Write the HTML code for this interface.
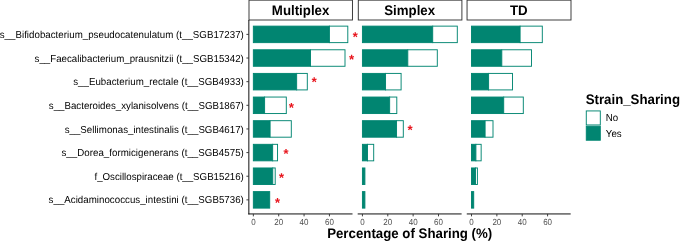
<!DOCTYPE html>
<html><head><meta charset="utf-8"><style>
html,body{margin:0;padding:0;background:#fff;width:685px;height:241px;overflow:hidden}
svg{display:block;will-change:transform;font-family:"Liberation Sans",sans-serif;text-rendering:geometricPrecision}
</style></head><body>
<svg width="685" height="241" viewBox="0 0 685 241">
<rect width="685" height="241" fill="#fff"/>
<rect x="249.00" y="0.15" width="103.45" height="19.85" fill="#fff" stroke="#333" stroke-width="0.945"/>
<text transform="translate(300.58,14.70) scale(1,1.04)" text-anchor="middle" font-size="13.27" font-weight="bold" fill="#000">Multiplex</text>
<rect x="358.30" y="0.15" width="103.60" height="19.85" fill="#fff" stroke="#333" stroke-width="0.945"/>
<text transform="translate(409.65,14.70) scale(1,1.04)" text-anchor="middle" font-size="13.27" font-weight="bold" fill="#000">Simplex</text>
<rect x="467.05" y="0.15" width="103.95" height="19.85" fill="#fff" stroke="#333" stroke-width="0.945"/>
<text transform="translate(518.73,14.70) scale(1,1.04)" text-anchor="middle" font-size="13.27" font-weight="bold" fill="#000">TD</text>
<rect x="253.35" y="26.13" width="76.05" height="16.50" fill="#018571" stroke="#018571" stroke-width="0.945"/>
<rect x="329.40" y="26.13" width="18.40" height="16.50" fill="#fff" stroke="#018571" stroke-width="0.945"/>
<rect x="253.35" y="49.77" width="57.15" height="16.50" fill="#018571" stroke="#018571" stroke-width="0.945"/>
<rect x="310.50" y="49.77" width="34.50" height="16.50" fill="#fff" stroke="#018571" stroke-width="0.945"/>
<rect x="253.35" y="73.41" width="43.30" height="16.50" fill="#018571" stroke="#018571" stroke-width="0.945"/>
<rect x="296.65" y="73.41" width="10.65" height="16.50" fill="#fff" stroke="#018571" stroke-width="0.945"/>
<rect x="253.35" y="97.05" width="11.25" height="16.50" fill="#018571" stroke="#018571" stroke-width="0.945"/>
<rect x="264.60" y="97.05" width="21.70" height="16.50" fill="#fff" stroke="#018571" stroke-width="0.945"/>
<rect x="253.35" y="120.69" width="16.75" height="16.50" fill="#018571" stroke="#018571" stroke-width="0.945"/>
<rect x="270.10" y="120.69" width="21.20" height="16.50" fill="#fff" stroke="#018571" stroke-width="0.945"/>
<rect x="253.35" y="144.33" width="19.30" height="16.50" fill="#018571" stroke="#018571" stroke-width="0.945"/>
<rect x="272.65" y="144.33" width="4.90" height="16.50" fill="#fff" stroke="#018571" stroke-width="0.945"/>
<rect x="253.35" y="167.97" width="19.40" height="16.50" fill="#018571" stroke="#018571" stroke-width="0.945"/>
<rect x="272.75" y="167.97" width="2.45" height="16.50" fill="#fff" stroke="#018571" stroke-width="0.945"/>
<rect x="253.35" y="191.61" width="16.35" height="16.50" fill="#018571" stroke="#018571" stroke-width="0.945"/>
<rect x="362.43" y="26.13" width="70.27" height="16.50" fill="#018571" stroke="#018571" stroke-width="0.945"/>
<rect x="432.70" y="26.13" width="24.60" height="16.50" fill="#fff" stroke="#018571" stroke-width="0.945"/>
<rect x="362.43" y="49.77" width="45.38" height="16.50" fill="#018571" stroke="#018571" stroke-width="0.945"/>
<rect x="407.80" y="49.77" width="29.50" height="16.50" fill="#fff" stroke="#018571" stroke-width="0.945"/>
<rect x="362.43" y="73.41" width="23.12" height="16.50" fill="#018571" stroke="#018571" stroke-width="0.945"/>
<rect x="385.55" y="73.41" width="15.55" height="16.50" fill="#fff" stroke="#018571" stroke-width="0.945"/>
<rect x="362.43" y="97.05" width="27.22" height="16.50" fill="#018571" stroke="#018571" stroke-width="0.945"/>
<rect x="389.65" y="97.05" width="7.15" height="16.50" fill="#fff" stroke="#018571" stroke-width="0.945"/>
<rect x="362.43" y="120.69" width="34.12" height="16.50" fill="#018571" stroke="#018571" stroke-width="0.945"/>
<rect x="396.55" y="120.69" width="6.75" height="16.50" fill="#fff" stroke="#018571" stroke-width="0.945"/>
<rect x="362.43" y="144.33" width="5.07" height="16.50" fill="#018571" stroke="#018571" stroke-width="0.945"/>
<rect x="367.50" y="144.33" width="6.20" height="16.50" fill="#fff" stroke="#018571" stroke-width="0.945"/>
<rect x="362.43" y="167.97" width="2.47" height="16.50" fill="#018571" stroke="#018571" stroke-width="0.945"/>
<rect x="362.43" y="191.61" width="2.47" height="16.50" fill="#018571" stroke="#018571" stroke-width="0.945"/>
<rect x="471.50" y="26.13" width="48.60" height="16.50" fill="#018571" stroke="#018571" stroke-width="0.945"/>
<rect x="520.10" y="26.13" width="22.20" height="16.50" fill="#fff" stroke="#018571" stroke-width="0.945"/>
<rect x="471.50" y="49.77" width="30.30" height="16.50" fill="#018571" stroke="#018571" stroke-width="0.945"/>
<rect x="501.80" y="49.77" width="29.70" height="16.50" fill="#fff" stroke="#018571" stroke-width="0.945"/>
<rect x="471.50" y="73.41" width="17.10" height="16.50" fill="#018571" stroke="#018571" stroke-width="0.945"/>
<rect x="488.60" y="73.41" width="23.90" height="16.50" fill="#fff" stroke="#018571" stroke-width="0.945"/>
<rect x="471.50" y="97.05" width="32.20" height="16.50" fill="#018571" stroke="#018571" stroke-width="0.945"/>
<rect x="503.70" y="97.05" width="19.60" height="16.50" fill="#fff" stroke="#018571" stroke-width="0.945"/>
<rect x="471.50" y="120.69" width="13.60" height="16.50" fill="#018571" stroke="#018571" stroke-width="0.945"/>
<rect x="485.10" y="120.69" width="7.90" height="16.50" fill="#fff" stroke="#018571" stroke-width="0.945"/>
<rect x="471.50" y="144.33" width="4.40" height="16.50" fill="#018571" stroke="#018571" stroke-width="0.945"/>
<rect x="475.90" y="144.33" width="5.25" height="16.50" fill="#fff" stroke="#018571" stroke-width="0.945"/>
<rect x="471.50" y="167.97" width="4.00" height="16.50" fill="#018571" stroke="#018571" stroke-width="0.945"/>
<rect x="475.50" y="167.97" width="1.90" height="16.50" fill="#fff" stroke="#018571" stroke-width="0.945"/>
<rect x="471.50" y="191.61" width="2.20" height="16.50" fill="#018571" stroke="#018571" stroke-width="0.945"/>
<line x1="248.85" y1="20.00" x2="248.85" y2="214.41" stroke="#000" stroke-width="0.945"/>
<line x1="248.38" y1="213.94" x2="352.53" y2="213.94" stroke="#000" stroke-width="0.945"/>
<line x1="253.35" y1="213.94" x2="253.35" y2="216.37" stroke="#333" stroke-width="0.945"/>
<text transform="translate(253.35,224.60) scale(1,1.1)" text-anchor="middle" font-size="8.0" fill="#4d4d4d">0</text>
<line x1="278.71" y1="213.94" x2="278.71" y2="216.37" stroke="#333" stroke-width="0.945"/>
<text transform="translate(278.71,224.60) scale(1,1.1)" text-anchor="middle" font-size="8.0" fill="#4d4d4d">20</text>
<line x1="304.07" y1="213.94" x2="304.07" y2="216.37" stroke="#333" stroke-width="0.945"/>
<text transform="translate(304.07,224.60) scale(1,1.1)" text-anchor="middle" font-size="8.0" fill="#4d4d4d">40</text>
<line x1="329.43" y1="213.94" x2="329.43" y2="216.37" stroke="#333" stroke-width="0.945"/>
<text transform="translate(329.43,224.60) scale(1,1.1)" text-anchor="middle" font-size="8.0" fill="#4d4d4d">60</text>
<line x1="357.70" y1="213.94" x2="461.61" y2="213.94" stroke="#000" stroke-width="0.945"/>
<line x1="362.43" y1="213.94" x2="362.43" y2="216.37" stroke="#333" stroke-width="0.945"/>
<text transform="translate(362.43,224.60) scale(1,1.1)" text-anchor="middle" font-size="8.0" fill="#4d4d4d">0</text>
<line x1="387.79" y1="213.94" x2="387.79" y2="216.37" stroke="#333" stroke-width="0.945"/>
<text transform="translate(387.79,224.60) scale(1,1.1)" text-anchor="middle" font-size="8.0" fill="#4d4d4d">20</text>
<line x1="413.14" y1="213.94" x2="413.14" y2="216.37" stroke="#333" stroke-width="0.945"/>
<text transform="translate(413.14,224.60) scale(1,1.1)" text-anchor="middle" font-size="8.0" fill="#4d4d4d">40</text>
<line x1="438.50" y1="213.94" x2="438.50" y2="216.37" stroke="#333" stroke-width="0.945"/>
<text transform="translate(438.50,224.60) scale(1,1.1)" text-anchor="middle" font-size="8.0" fill="#4d4d4d">60</text>
<line x1="466.78" y1="213.94" x2="570.68" y2="213.94" stroke="#000" stroke-width="0.945"/>
<line x1="471.50" y1="213.94" x2="471.50" y2="216.37" stroke="#333" stroke-width="0.945"/>
<text transform="translate(471.50,224.60) scale(1,1.1)" text-anchor="middle" font-size="8.0" fill="#4d4d4d">0</text>
<line x1="496.86" y1="213.94" x2="496.86" y2="216.37" stroke="#333" stroke-width="0.945"/>
<text transform="translate(496.86,224.60) scale(1,1.1)" text-anchor="middle" font-size="8.0" fill="#4d4d4d">20</text>
<line x1="522.22" y1="213.94" x2="522.22" y2="216.37" stroke="#333" stroke-width="0.945"/>
<text transform="translate(522.22,224.60) scale(1,1.1)" text-anchor="middle" font-size="8.0" fill="#4d4d4d">40</text>
<line x1="547.58" y1="213.94" x2="547.58" y2="216.37" stroke="#333" stroke-width="0.945"/>
<text transform="translate(547.58,224.60) scale(1,1.1)" text-anchor="middle" font-size="8.0" fill="#4d4d4d">60</text>
<line x1="246.42" y1="34.38" x2="248.85" y2="34.38" stroke="#333" stroke-width="0.945"/>
<text transform="translate(243.80,38.00) scale(1,1.04)" text-anchor="end" font-size="9.73" fill="#000" textLength="244.07">s__Bifidobacterium_pseudocatenulatum (t__SGB17237)</text>
<line x1="246.42" y1="58.02" x2="248.85" y2="58.02" stroke="#333" stroke-width="0.945"/>
<text transform="translate(243.80,62.00) scale(1,1.04)" text-anchor="end" font-size="9.73" fill="#000" textLength="209.26">s__Faecalibacterium_prausnitzii (t__SGB15342)</text>
<line x1="246.42" y1="81.66" x2="248.85" y2="81.66" stroke="#333" stroke-width="0.945"/>
<text transform="translate(243.80,85.00) scale(1,1.04)" text-anchor="end" font-size="9.73" fill="#000" textLength="170.64">s__Eubacterium_rectale (t__SGB4933)</text>
<line x1="246.42" y1="105.30" x2="248.85" y2="105.30" stroke="#333" stroke-width="0.945"/>
<text transform="translate(243.80,109.00) scale(1,1.04)" text-anchor="end" font-size="9.73" fill="#000" textLength="195.03">s__Bacteroides_xylanisolvens (t__SGB1867)</text>
<line x1="246.42" y1="128.94" x2="248.85" y2="128.94" stroke="#333" stroke-width="0.945"/>
<text transform="translate(243.80,133.00) scale(1,1.04)" text-anchor="end" font-size="9.73" fill="#000" textLength="179.13">s__Sellimonas_intestinalis (t__SGB4617)</text>
<line x1="246.42" y1="152.58" x2="248.85" y2="152.58" stroke="#333" stroke-width="0.945"/>
<text transform="translate(243.80,156.00) scale(1,1.04)" text-anchor="end" font-size="9.73" fill="#000" textLength="182.32">s__Dorea_formicigenerans (t__SGB4575)</text>
<line x1="246.42" y1="176.22" x2="248.85" y2="176.22" stroke="#333" stroke-width="0.945"/>
<text transform="translate(243.80,180.00) scale(1,1.04)" text-anchor="end" font-size="9.73" fill="#000" textLength="149.34">f_Oscillospiraceae (t__SGB15216)</text>
<line x1="246.42" y1="199.86" x2="248.85" y2="199.86" stroke="#333" stroke-width="0.945"/>
<text transform="translate(243.80,203.00) scale(1,1.04)" text-anchor="end" font-size="9.73" fill="#000" textLength="195.23">s__Acidaminococcus_intestini (t__SGB5736)</text>
<path transform="translate(355.25,34.70) scale(0.00649)" fill="#E8141C" d="M91.5 -107.0 L326.5 -211.0 L394.5 -14.0 L144.5 47.0 L330.5 260.0 L146.5 381.0 L0.5 129.0 L-148.5 381.0 L-334.5 258.0 L-144.5 47.0 L-394.5 -14.0 L-326.5 -211.0 L-87.5 -107.0 L-105.5 -381.0 L109.5 -381.0Z"/>
<path transform="translate(351.60,57.30) scale(0.00649)" fill="#E8141C" d="M91.5 -107.0 L326.5 -211.0 L394.5 -14.0 L144.5 47.0 L330.5 260.0 L146.5 381.0 L0.5 129.0 L-148.5 381.0 L-334.5 258.0 L-144.5 47.0 L-394.5 -14.0 L-326.5 -211.0 L-87.5 -107.0 L-105.5 -381.0 L109.5 -381.0Z"/>
<path transform="translate(314.20,79.75) scale(0.00649)" fill="#E8141C" d="M91.5 -107.0 L326.5 -211.0 L394.5 -14.0 L144.5 47.0 L330.5 260.0 L146.5 381.0 L0.5 129.0 L-148.5 381.0 L-334.5 258.0 L-144.5 47.0 L-394.5 -14.0 L-326.5 -211.0 L-87.5 -107.0 L-105.5 -381.0 L109.5 -381.0Z"/>
<path transform="translate(291.40,105.45) scale(0.00649)" fill="#E8141C" d="M91.5 -107.0 L326.5 -211.0 L394.5 -14.0 L144.5 47.0 L330.5 260.0 L146.5 381.0 L0.5 129.0 L-148.5 381.0 L-334.5 258.0 L-144.5 47.0 L-394.5 -14.0 L-326.5 -211.0 L-87.5 -107.0 L-105.5 -381.0 L109.5 -381.0Z"/>
<path transform="translate(286.00,151.50) scale(0.00649)" fill="#E8141C" d="M91.5 -107.0 L326.5 -211.0 L394.5 -14.0 L144.5 47.0 L330.5 260.0 L146.5 381.0 L0.5 129.0 L-148.5 381.0 L-334.5 258.0 L-144.5 47.0 L-394.5 -14.0 L-326.5 -211.0 L-87.5 -107.0 L-105.5 -381.0 L109.5 -381.0Z"/>
<path transform="translate(281.50,175.60) scale(0.00649)" fill="#E8141C" d="M91.5 -107.0 L326.5 -211.0 L394.5 -14.0 L144.5 47.0 L330.5 260.0 L146.5 381.0 L0.5 129.0 L-148.5 381.0 L-334.5 258.0 L-144.5 47.0 L-394.5 -14.0 L-326.5 -211.0 L-87.5 -107.0 L-105.5 -381.0 L109.5 -381.0Z"/>
<path transform="translate(277.50,200.50) scale(0.00649)" fill="#E8141C" d="M91.5 -107.0 L326.5 -211.0 L394.5 -14.0 L144.5 47.0 L330.5 260.0 L146.5 381.0 L0.5 129.0 L-148.5 381.0 L-334.5 258.0 L-144.5 47.0 L-394.5 -14.0 L-326.5 -211.0 L-87.5 -107.0 L-105.5 -381.0 L109.5 -381.0Z"/>
<path transform="translate(410.10,127.75) scale(0.00649)" fill="#E8141C" d="M91.5 -107.0 L326.5 -211.0 L394.5 -14.0 L144.5 47.0 L330.5 260.0 L146.5 381.0 L0.5 129.0 L-148.5 381.0 L-334.5 258.0 L-144.5 47.0 L-394.5 -14.0 L-326.5 -211.0 L-87.5 -107.0 L-105.5 -381.0 L109.5 -381.0Z"/>
<text transform="translate(409.70,237.80) scale(1,1.04)" text-anchor="middle" font-size="13.27" font-weight="bold" fill="#000">Percentage of Sharing (%)</text>
<text transform="translate(585.65,104.40) scale(1,1.04)" text-anchor="start" font-size="13.27" font-weight="bold" fill="#000">Strain_Sharing</text>
<rect x="586.28" y="110.93" width="14.02" height="14.02" fill="#fff" stroke="#018571" stroke-width="0.945"/>
<rect x="586.28" y="126.21" width="14.02" height="14.02" fill="#018571" stroke="#018571" stroke-width="0.945"/>
<text transform="translate(605.80,121.30) scale(1,1.04)" text-anchor="start" font-size="9.73" fill="#000">No</text>
<text transform="translate(605.80,136.55) scale(1,1.04)" text-anchor="start" font-size="9.73" fill="#000">Yes</text>
</svg>
</body></html>
